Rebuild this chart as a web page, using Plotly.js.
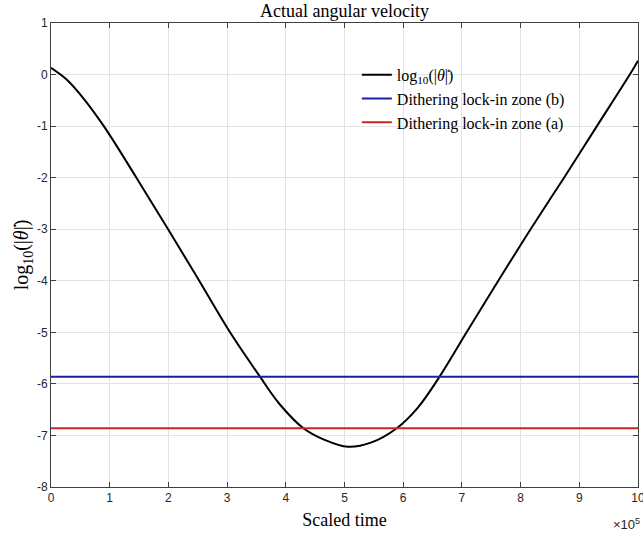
<!DOCTYPE html>
<html>
<head>
<meta charset="utf-8">
<script src="https://cdn.plot.ly/plotly-3.0.1.min.js"></script>
<style>html,body{margin:0;padding:0;background:#fff;}#chart{width:643px;height:535px;}</style>
</head>
<body>
<div id="chart"></div>
<script>
// Scaled time (units of 1e5)
var timeE5 = [0, 0.27, 0.545, 0.9, 1.455, 1.995, 2.525, 3.05, 3.56, 3.9, 4.3, 4.65, 5.06, 5.45, 5.89, 6.25, 6.62, 7.08, 7.62, 8.17, 8.74, 9.3, 9.86, 10];
var logThetaDot = [0.13, -0.1, -0.45, -1.0, -2.0, -3.0, -4.0, -5.0, -5.86, -6.4, -6.86, -7.08, -7.22, -7.14, -6.86, -6.46, -5.86, -5.0, -4.0, -3.0, -2.0, -1.0, 0.0, 0.27];
var zoneX = [0, 10];
var zoneB = [-5.86, -5.86];
var zoneA = [-6.86, -6.86];
var xTicks = [0,1,2,3,4,5,6,7,8,9,10];
var yTicks = [-8,-7,-6,-5,-4,-3,-2,-1,0,1];

var serif = '"Liberation Serif", "DejaVu Serif", serif';
var sans = '"Liberation Sans", Arial, sans-serif';

var traces = [
  {x: timeE5, y: logThetaDot, mode: 'lines', line: {color: '#000000', width: 2, shape: 'spline', smoothing: 1},
   name: 'log<sub>10</sub>(|<i>θ̇</i>|)'},
  {x: zoneX, y: zoneB, mode: 'lines', line: {color: '#1c1ca8', width: 2}, name: 'Dithering lock-in zone (b)'},
  {x: zoneX, y: zoneA, mode: 'lines', line: {color: '#cc2424', width: 2}, name: 'Dithering lock-in zone (a)'}
];

var axisCommon = {
  showline: true, linecolor: '#404040', linewidth: 1, mirror: 'ticks',
  ticks: 'inside', ticklen: 5, tickcolor: '#404040',
  showgrid: true, gridcolor: '#e3e3e3', gridwidth: 1, zeroline: false,
  ticklabeloverflow: 'allow',
  tickfont: {family: sans, size: 12, color: '#262626'}
};

var layout = {
  width: 643, height: 535,
  margin: {l: 51, r: 5, t: 23, b: 48},
  paper_bgcolor: '#ffffff', plot_bgcolor: '#ffffff',
  title: {text: 'Actual angular velocity', font: {family: serif, size: 18, color: '#000'},
          xref: 'paper', x: 0.5, xanchor: 'center', yref: 'container', y: 0.98, yanchor: 'middle'},
  xaxis: Object.assign({}, axisCommon, {
    range: [0, 10], tickvals: xTicks, ticktext: xTicks.map(String),
    title: {text: 'Scaled time', font: {family: serif, size: 18, color: '#000'}, standoff: 8}
  }),
  yaxis: Object.assign({}, axisCommon, {
    range: [-8, 1], tickvals: yTicks, ticktext: yTicks.map(String),
    title: {text: 'log<sub>10</sub>(|<i>θ̇</i>|)', font: {family: serif, size: 20, color: '#000'}, standoff: 2}
  }),
  showlegend: true,
  legend: {x: 0.521, xanchor: 'left', y: 0.925, yanchor: 'top', bgcolor: 'rgba(0,0,0,0)', borderwidth: 0,
           font: {family: serif, size: 16, color: '#000'}, tracegroupgap: 0},
  annotations: [
    {text: '×10<sup>5</sup>', xref: 'paper', yref: 'paper', x: 1.007, y: -0.058, xanchor: 'right', yanchor: 'top',
     showarrow: false, font: {family: sans, size: 13, color: '#262626'}}
  ]
};

Plotly.newPlot('chart', traces, layout, {displayModeBar: false, staticPlot: true});
</script>
</body>
</html>
